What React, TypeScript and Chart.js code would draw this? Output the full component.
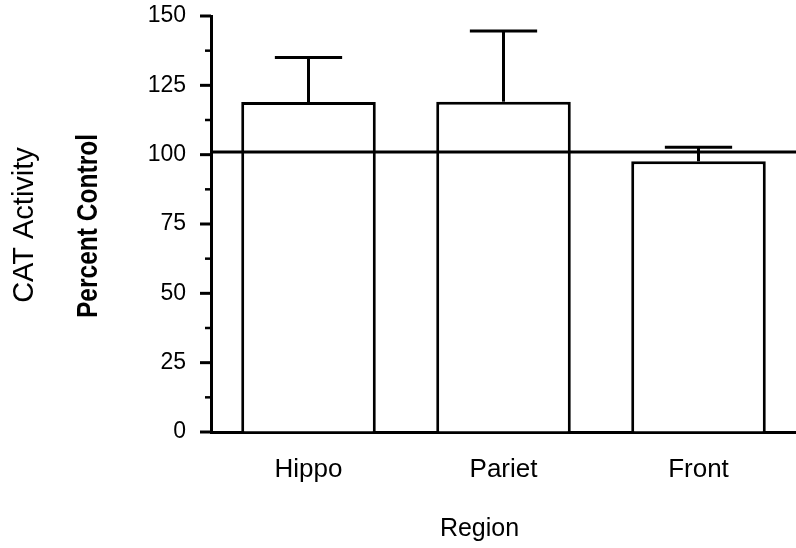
import React, { useEffect, useRef } from 'react';
import { Chart, registerables } from 'chart.js';

Chart.register(...registerables);

const categories = ['Hippo', 'Pariet', 'Front'];
const meanValues = [119.0, 119.1, 97.6];
const errorValues = [16.0, 25.5, 5.1];
const referenceValue = 101;

const yMin = 0;
const yMax = 150;
const yMinorStep = 12.5;
const yLabelStep = 25;

const yAxisTitle = 'CAT Activity';
const yAxisSubtitle = 'Percent Control';
const xAxisTitle = 'Region';

const FONT = '"Liberation Sans", Arial, Helvetica, sans-serif';

const drawPlugin = {
  id: 'customDraw',
  afterDatasetsDraw(chart: any) {
    const ctx = chart.ctx;
    const y = chart.scales.y;
    const area = chart.chartArea;
    const meta = chart.getDatasetMeta(0);
    ctx.save();
    ctx.strokeStyle = '#000';
    ctx.lineWidth = 3;
    ctx.lineCap = 'butt';
    // reference (control) line
    const ry = y.getPixelForValue(referenceValue);
    ctx.beginPath();
    ctx.moveTo(area.left, ry);
    ctx.lineTo(area.right, ry);
    ctx.stroke();
    // error bars (upper only)
    meta.data.forEach((bar: any, i: number) => {
      const top = y.getPixelForValue(meanValues[i]);
      const up = y.getPixelForValue(meanValues[i] + errorValues[i]);
      const half = bar.width * 0.25;
      ctx.beginPath();
      ctx.moveTo(bar.x, top);
      ctx.lineTo(bar.x, up);
      ctx.stroke();
      ctx.beginPath();
      ctx.moveTo(bar.x - half, up);
      ctx.lineTo(bar.x + half, up);
      ctx.stroke();
    });
    ctx.restore();
  },
  afterDraw(chart: any) {
    const ctx = chart.ctx;
    const y = chart.scales.y;
    const area = chart.chartArea;
    ctx.save();
    ctx.strokeStyle = '#000';
    // y tick marks: long for labelled, short for minor
    y.ticks.forEach((t: any) => {
      const py = y.getPixelForValue(t.value);
      const major = Math.abs(t.value % yLabelStep) < 1e-6;
      const len = major ? 11 : 6;
      ctx.lineWidth = major ? 3 : 2.5;
      ctx.beginPath();
      ctx.moveTo(area.left - len, py);
      ctx.lineTo(area.left, py);
      ctx.stroke();
    });
    ctx.fillStyle = '#000';
    // y titles
    ctx.save();
    ctx.translate(33, 225);
    ctx.rotate(-Math.PI / 2);
    ctx.font = `29px ${FONT}`;
    ctx.textAlign = 'center';
    ctx.textBaseline = 'alphabetic';
    ctx.fillText(yAxisTitle, 0, 0, 158);
    ctx.restore();

    ctx.save();
    ctx.translate(97, 226);
    ctx.rotate(-Math.PI / 2);
    ctx.font = `bold 29px ${FONT}`;
    ctx.textAlign = 'center';
    ctx.textBaseline = 'alphabetic';
    ctx.fillText(yAxisSubtitle, 0, 0, 184);
    ctx.restore();

    // x title
    ctx.font = `25px ${FONT}`;
    ctx.textAlign = 'center';
    ctx.textBaseline = 'alphabetic';
    ctx.fillText(xAxisTitle, 479.5, 536);
    ctx.restore();
  },
};

export default function App() {
  const canvasRef = useRef<HTMLCanvasElement | null>(null);

  useEffect(() => {
    if (!canvasRef.current) return;
    Chart.defaults.font.family = FONT;
    const chart = new Chart(canvasRef.current, {
      type: 'bar',
      data: {
        labels: categories,
        datasets: [
          {
            data: meanValues,
            backgroundColor: '#ffffff',
            borderColor: '#000000',
            borderWidth: 3,
            barPercentage: 0.69,
            categoryPercentage: 1,
          },
        ],
      },
      options: {
        responsive: false,
        animation: false,
        devicePixelRatio: 1,
        layout: { padding: { top: 16, right: 0, left: 0, bottom: 0 } },
        plugins: {
          legend: { display: false },
          tooltip: { enabled: false },
          title: { display: false },
        },
        scales: {
          x: {
            grid: { display: false, drawTicks: false },
            border: { display: true, color: '#000', width: 3 },
            ticks: {
              color: '#000',
              font: { size: 26 },
              padding: 22,
              maxRotation: 0,
              autoSkip: false,
            },
            afterFit: (scale: any) => {
              scale.height = 116;
              scale.paddingLeft = 0;
              scale.paddingRight = 0;
            },
          },
          y: {
            min: yMin,
            max: yMax,
            grid: {
              display: true,
              drawOnChartArea: false,
              drawTicks: true,
              tickLength: 11,
              tickColor: 'rgba(0,0,0,0)',
            },
            border: { display: true, color: '#000', width: 3 },
            ticks: {
              stepSize: yMinorStep,
              color: '#000',
              font: { size: 23 },
              padding: 14,
              autoSkip: false,
              callback: (v: any) =>
                Math.abs(Number(v) % yLabelStep) < 1e-6 ? String(v) : '',
            },
            afterFit: (scale: any) => {
              scale.width = 211;
              scale.paddingTop = 0;
              scale.paddingBottom = 0;
            },
          },
        },
      },
      plugins: [drawPlugin],
    });
    return () => chart.destroy();
  }, []);

  return (
    <div style={{ position: 'fixed', left: 0, top: 0, width: 796, height: 548, background: '#fff' }}>
      <canvas ref={canvasRef} width={796} height={548} style={{ display: 'block' }} />
    </div>
  );
}
